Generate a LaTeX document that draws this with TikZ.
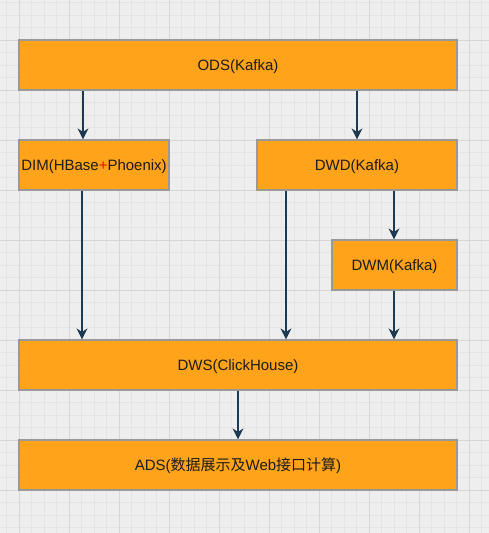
\documentclass[tikz,border=0pt]{standalone}
\usepackage{fontspec}
\setmainfont{Liberation Sans}
\newfontfamily\cjk{Noto Sans CJK SC}
\usetikzlibrary{arrows.meta}
\definecolor{bgc}{HTML}{EEEEEE}
\definecolor{minorc}{HTML}{E4E4E4}
\definecolor{majorc}{HTML}{D6D6D6}
\definecolor{boxfill}{HTML}{FFA31A}
\definecolor{boxline}{HTML}{999999}
\definecolor{arrc}{HTML}{1E3A52}
\definecolor{txt}{HTML}{1C1C1C}
\definecolor{plusred}{HTML}{E01010}
\tikzset{
  minorline/.style={draw=minorc, line width=0.8pt},
  majorline/.style={draw=majorc, line width=1pt},
  layer/.style={rectangle, fill=boxfill, draw=boxline, line width=1.2pt, inner sep=0pt,
    minimum height=50pt, text=txt, font=\fontsize{15}{18}\selectfont,
    text height=10.75pt, text depth=0pt},
  arr/.style={draw=arrc, line width=1.4pt, -{Stealth[length=11pt,width=11pt,inset=3.5pt]}},
}
\begin{document}
\begin{tikzpicture}[x=1pt,y=-1pt]
\useasboundingbox (0,0) rectangle (489,533);
\fill[bgc] (0,0) rectangle (489,533);
\foreach \i in {0,...,38} \draw[minorline] ({6.5+12.5*\i},0) -- ({6.5+12.5*\i},533);
\foreach \j in {0,...,42} \draw[minorline] (0,{2.5+12.5*\j}) -- (489,{2.5+12.5*\j});
\foreach \i in {0,...,9} \draw[majorline] ({19+50*\i},0) -- ({19+50*\i},533);
\foreach \j in {0,...,9} \draw[majorline] (0,{40+50*\j}) -- (489,{40+50*\j});

\node[layer, minimum width=438pt] (ods) at (238,65) {ODS(Kafka)};
\node[layer, minimum width=150pt] (dim) at (94,165) {DIM(HBase{\color{plusred}+}Phoenix)};
\node[layer, minimum width=200pt] (dwd) at (357,165) {DWD(Kafka)};
\node[layer, minimum width=125pt] (dwm) at (394.5,265) {DWM(Kafka)};
\node[layer, minimum width=438pt] (dws) at (238,365) {DWS(ClickHouse)};
\node[layer, minimum width=438pt] (ads) at (238,465) {ADS({\cjk 数据展示及}Web{\cjk 接口计算})};

\coordinate (xa) at (83,0);
\coordinate (xb) at (357,0);
\coordinate (xc) at (82,0);
\coordinate (xd) at (286,0);
\coordinate (xe) at (394,0);
\coordinate (xf) at (238,0);

\draw[arr] (ods.south -| xa) -- (dim.north -| xa);
\draw[arr] (ods.south -| xb) -- (dwd.north -| xb);
\draw[arr] (dim.south -| xc) -- (dws.north -| xc);
\draw[arr] (dwd.south -| xd) -- (dws.north -| xd);
\draw[arr] (dwd.south -| xe) -- (dwm.north -| xe);
\draw[arr] (dwm.south -| xe) -- (dws.north -| xe);
\draw[arr] (dws.south -| xf) -- (ads.north -| xf);
\end{tikzpicture}
\end{document}
